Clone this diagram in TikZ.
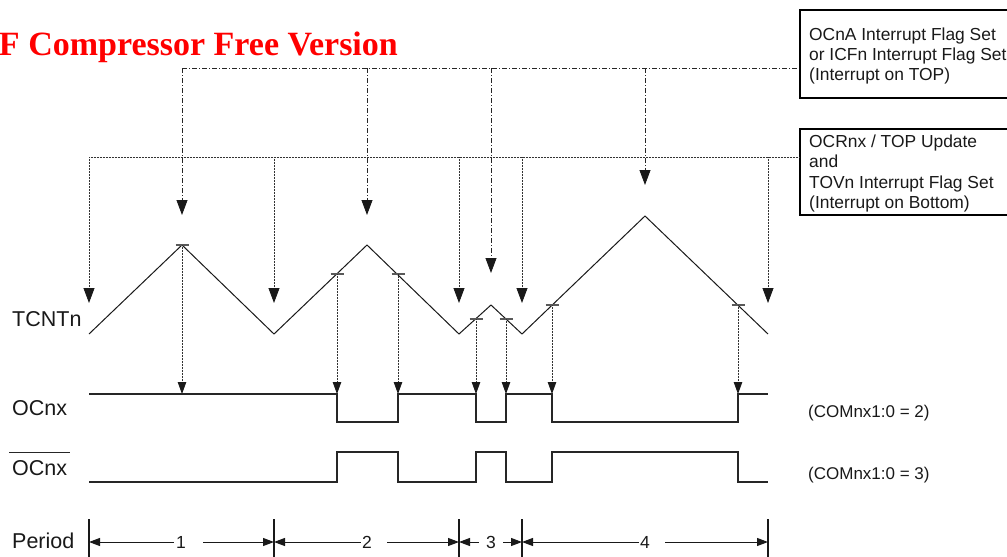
\documentclass[tikz,border=0pt]{standalone}
\usepackage{fontspec}
\setmainfont{Liberation Serif}
\setsansfont{Liberation Sans}
\usetikzlibrary{arrows.meta}
\begin{document}
\begin{tikzpicture}[x=1pt,y=-1pt,
  wave/.style={line width=1pt, black!90},
  sig/.style={line width=1.2pt, black!85},
  fine/.style={line width=0.8pt, black!80, dash pattern=on 0.8pt off 0.7pt},
  dashdot/.style={line width=0.8pt, black!85, dash pattern=on 5pt off 2pt on 1pt off 2pt},
  bigtip/.style={-{Triangle[length=15pt,width=11pt,color=black!90]}},
  smalltip/.style={-{Triangle[length=12pt,width=8.5pt,color=black!90]}},
  ptip/.style={-{Triangle[length=11pt,width=8pt,color=black!90]}},
  cmptick/.style={line width=1.1pt, black!65},
  bar/.style={line width=1.3pt, black!90},
  flagbox/.style={draw, line width=1.6pt, minimum width=230pt, inner sep=0pt, anchor=north west},
  boxtext/.style={font=\sffamily\fontsize{17.4}{20.4}\selectfont, inner sep=0pt, anchor=base west, text=black!90},
  comtext/.style={font=\sffamily\fontsize{17}{20}\selectfont, inner sep=0pt, anchor=base west, text=black!90},
  lab/.style={font=\sffamily\fontsize{21.5}{24}\selectfont, inner sep=0pt, anchor=base west, text=black!90},
  digit/.style={font=\sffamily\fontsize{17.5}{20}\selectfont, inner sep=0pt, anchor=base, text=black!90},
]
\useasboundingbox (0,0) rectangle (1007,557);

% title
\node[font=\rmfamily\bfseries\fontsize{34}{40}\selectfont, text={rgb,255:red,255;green,0;blue,0}, inner sep=0pt, anchor=base east] (title) at (398,55) {F Compressor Free Version};

% flag boxes
\node[flagbox, minimum height=88pt] (box1) at (799,9) {};
\node[boxtext] (b1l1) at (809,40) {OCnA Interrupt Flag Set};
\node[boxtext] (b1l2) at (809,60) {or ICFn Interrupt Flag Set};
\node[boxtext] (b1l3) at (809,80) {(Interrupt on TOP)};
\node[flagbox, minimum height=86pt] (box2) at (799,128) {};
\node[boxtext] (b2l1) at (809,147) {OCRnx / TOP Update};
\node[boxtext] (b2l2) at (809,167.5) {and};
\node[boxtext] (b2l3) at (809,188) {TOVn Interrupt Flag Set};
\node[boxtext] (b2l4) at (809,208.5) {(Interrupt on Bottom)};

% signal labels
\node[lab] (tcnt) at (12,326) {TCNTn};
\node[lab] (oc) at (12,415) {OCnx};
\node[lab] (ocb) at (12,475) {OCnx};
\draw[line width=1.1pt, black!85] ([xshift=-3pt,yshift=7pt]ocb.north west) -- ([xshift=3pt,yshift=7pt]ocb.north east);
\node[lab] (per) at (12,548) {Period};
\node[comtext] (com2) at (808,417) {(COMnx1:0 = 2)};
\node[comtext] (com3) at (808,479) {(COMnx1:0 = 3)};

% counter waveform
\coordinate (b0) at (89,334);
\coordinate (p1) at (182,245);
\coordinate (b1) at (274,334);
\coordinate (p2) at (367,245);
\coordinate (b2) at (459,334);
\coordinate (p3) at (491,305);
\coordinate (b3) at (522,334);
\coordinate (p4) at (645,216);
\coordinate (b4) at (768,334);
\draw[wave] (b0) -- (p1) -- (b1) -- (p2) -- (b2) -- (p3) -- (b3) -- (p4) -- (b4);

% bottom (update) bus
\foreach \n/\x in {0/89,1/274,2/459,3/522,4/768}{
  \coordinate (bus\n) at (\x,157);
  \coordinate (bt\n) at (\x,303);
}
\draw[fine] (bus0) -- (bus0 -| box2.west);
\foreach \n in {0,...,4}{
  \draw[fine, bigtip] (bus\n) -- (bt\n);
}

% top (interrupt) bus
\foreach \n/\x/\y in {1/182/215,2/367/215,3/491/273,4/645/185}{
  \coordinate (top\n) at (\x,68);
  \coordinate (tt\n) at (\x,\y);
}
\draw[dashdot] (top1) -- (top1 -| box1.west);
\foreach \n in {1,...,4}{
  \draw[dashdot, bigtip] (top\n) -- (tt\n);
}

% compare match ticks and arrows to OCnx
\foreach \n/\x/\y in {1/182/245,2/337/274,3/398/274,4/476/319,5/506/319,6/552/305,7/738/305}{
  \coordinate (c\n) at (\x,\y);
  \coordinate (o\n) at (\x,394);
  \draw[cmptick] ([xshift=-6.5pt]c\n) -- ([xshift=6.5pt]c\n);
  \draw[fine, smalltip] (c\n) -- (o\n);
}

% OCnx
\draw[sig] (89,394) -- (337,394) -- (337,422) -- (398,422) -- (398,394) -- (476,394) -- (476,422) -- (506,422) -- (506,394) -- (552,394) -- (552,422) -- (738,422) -- (738,394) -- (768,394);
% OCnx bar
\draw[sig] (89,482) -- (337,482) -- (337,452) -- (398,452) -- (398,482) -- (476,482) -- (476,452) -- (506,452) -- (506,482) -- (552,482) -- (552,452) -- (738,452) -- (738,482) -- (768,482);

% period row
\foreach \n/\x in {0/89,1/274,2/459,3/522,4/768}{
  \coordinate (pt\n) at (\x,519);
  \coordinate (pb\n) at (\x,560);
  \coordinate (pa\n) at (\x,542);
  \draw[bar] (pt\n) -- (pb\n);
}
\node[digit] (d1) at (181,548) {1};
\node[digit] (d2) at (367,548) {2};
\node[digit] (d3) at (491,548) {3};
\node[digit] (d4) at (645,548) {4};
\draw[wave, ptip] (d1.west |- pa0) ++(-2pt,0) -- (pa0);
\draw[wave, ptip] (d1.east |- pa0) ++(17pt,0) -- (pa1);
\draw[wave, ptip] (d2.west |- pa0) ++(-1pt,0) -- (pa1);
\draw[wave, ptip] (d2.east |- pa0) ++(15pt,0) -- (pa2);
\draw[wave, ptip] (d3.west |- pa0) ++(-7pt,0) -- (pa2);
\draw[wave, ptip] (d3.east |- pa0) ++(7pt,0) -- (pa3);
\draw[wave, ptip] (d4.west |- pa0) ++(-1pt,0) -- (pa3);
\draw[wave, ptip] (d4.east |- pa0) ++(15pt,0) -- (pa4);
\end{tikzpicture}
\end{document}
